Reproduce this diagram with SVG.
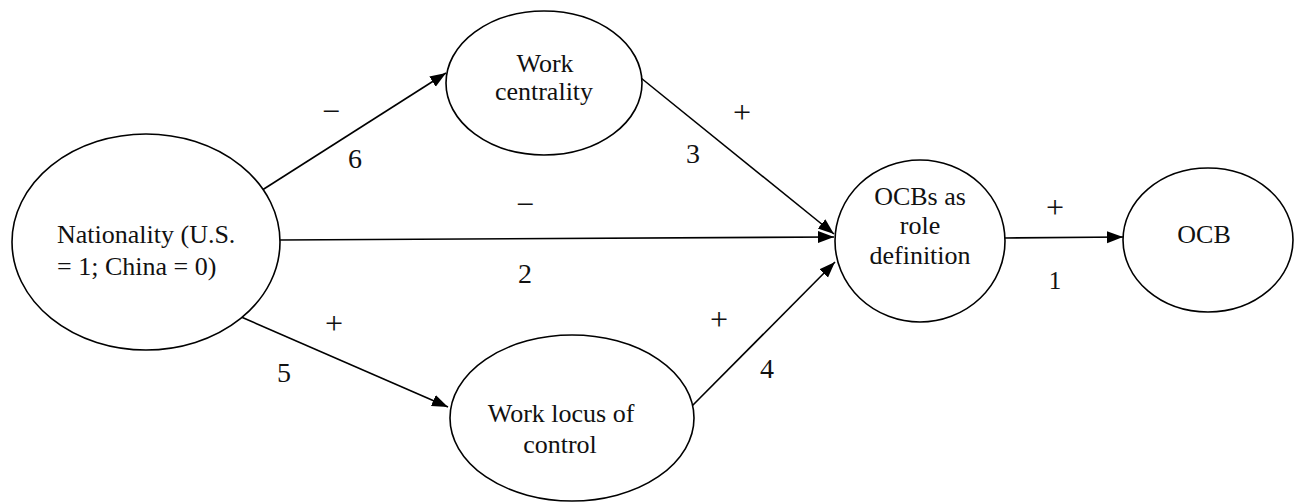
<svg xmlns="http://www.w3.org/2000/svg" width="1298" height="502" viewBox="0 0 1298 502">
<defs>
<style>
.node ellipse{fill:#fff;stroke:#000;stroke-width:1.6}
.t{font-family:"Liberation Serif","Times New Roman",serif;font-size:26px;fill:#111;text-anchor:middle}
.lbl{font-family:"Liberation Serif","Times New Roman",serif;font-size:28px;fill:#111;text-anchor:middle}
.sg{font-family:"Liberation Serif","Times New Roman",serif;font-size:32px;fill:#111;text-anchor:middle}
#connectors line{stroke:#000;stroke-width:1.6;fill:none}
</style>
<marker id="arr" markerUnits="userSpaceOnUse" markerWidth="18" markerHeight="14" refX="16" refY="7" orient="auto">
<path d="M0,1 L16,7 L0,13 Z" fill="#000"/>
</marker>
</defs>
<rect width="1298" height="502" fill="#fff"/>
<g id="connectors">
<line x1="256" y1="194" x2="446" y2="73" marker-end="url(#arr)"/>
<line x1="280" y1="240" x2="834" y2="237" marker-end="url(#arr)"/>
<line x1="232" y1="313" x2="448" y2="407" marker-end="url(#arr)"/>
<line x1="641" y1="78" x2="834" y2="234" marker-end="url(#arr)"/>
<line x1="692" y1="406" x2="835" y2="262" marker-end="url(#arr)"/>
<line x1="1005" y1="238" x2="1123" y2="237" marker-end="url(#arr)"/>
<text class="sg" x="331" y="122">−</text>
<text class="lbl" x="355" y="168">6</text>
<text class="sg" x="742" y="123">+</text>
<text class="lbl" x="693" y="163">3</text>
<text class="sg" x="525" y="215">−</text>
<text class="lbl" x="525" y="283">2</text>
<text class="sg" x="334" y="334">+</text>
<text class="lbl" x="284" y="382">5</text>
<text class="sg" x="719" y="330">+</text>
<text class="lbl" x="767" y="378">4</text>
<text class="sg" x="1055" y="218">+</text>
<text class="lbl" x="1055" y="289" style="font-size:25px">1</text>
</g>
<g id="nationality" class="node">
<ellipse cx="146" cy="242" rx="134" ry="108"/>
<text class="t" x="57" y="243" style="text-anchor:start">Nationality (U.S.</text>
<text class="t" x="57" y="275" style="text-anchor:start">= 1; China = 0)</text>
</g>
<g id="work-centrality" class="node">
<ellipse cx="544" cy="83" rx="98" ry="72"/>
<text class="t" x="545" y="72">Work</text>
<text class="t" x="544" y="100">centrality</text>
</g>
<g id="work-locus" class="node">
<ellipse cx="572" cy="418" rx="122" ry="83"/>
<text class="t" x="561" y="422">Work locus of</text>
<text class="t" x="560" y="453">control</text>
</g>
<g id="ocb-role" class="node">
<ellipse cx="920" cy="241" rx="85" ry="81"/>
<text class="t" x="920" y="205">OCBs as</text>
<text class="t" x="920" y="234">role</text>
<text class="t" x="920" y="264">definition</text>
</g>
<g id="ocb" class="node">
<ellipse cx="1208" cy="240" rx="85" ry="72"/>
<text class="t" x="1204" y="243">OCB</text>
</g>
</svg>
